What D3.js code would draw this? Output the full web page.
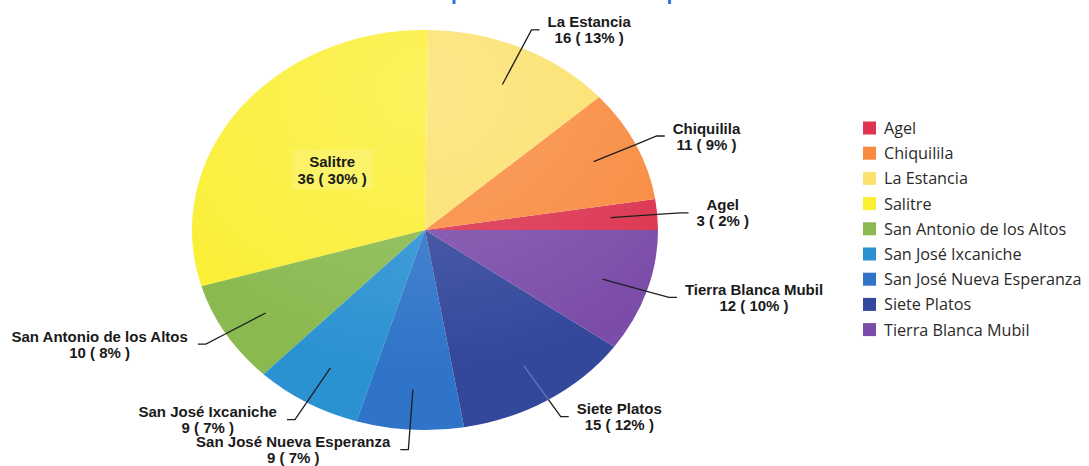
<!DOCTYPE html>
<html>
<head>
<meta charset="utf-8">
<script src="https://cdn.jsdelivr.net/npm/d3@7"></script>
<style>
  html, body { margin: 0; padding: 0; background: #ffffff; }
  svg { display: block; }
</style>
</head>
<body>
<svg id="chart" width="1089" height="466"></svg>
<script>
// Communities and their counts, in drawing order (counter-clockwise from 3 o'clock)
const communities = [
  "Agel", "Chiquilila", "La Estancia", "Salitre", "San Antonio de los Altos",
  "San José Ixcaniche", "San José Nueva Esperanza", "Siete Platos", "Tierra Blanca Mubil"
];
const counts = [3, 11, 16, 36, 10, 9, 9, 15, 12];
const sliceColors = [
  "#dc3450", "#f98b40", "#fce16c", "#fbef36", "#8ab94f",
  "#2b92d2", "#2f74c9", "#33479b", "#7b4ca9"
];
const titleText = "Número de personas encuestadas por comunidad";

const svg = d3.select("#chart");
const cx = 425, cy = 230, rx = 233, ry = 200;

const total = d3.sum(counts);
const pct = v => Math.round(v / total * 100);

const data = communities.map((name, i) => ({ name, value: counts[i], color: sliceColors[i], i }));

// counter-clockwise from east
const pie = d3.pie().sort(null).value(d => d.value)
  .startAngle(Math.PI / 2).endAngle(Math.PI / 2 - 2 * Math.PI);
const arcs = pie(data);

// title, sitting above the top edge of the page
svg.append("text")
  .attr("x", 575).attr("y", -1.5)
  .attr("text-anchor", "middle")
  .attr("font-family", "Open Sans, sans-serif")
  .attr("font-weight", "bold")
  .attr("font-size", 19)
  .attr("fill", "#2b6fd6")
  .text(titleText);

// pie, drawn as a circle and stretched horizontally into an ellipse
const pieG = svg.append("g")
  .attr("transform", `translate(${cx},${cy}) scale(${rx / ry},1)`);
const arc = d3.arc().innerRadius(0).outerRadius(ry);

pieG.selectAll("path.slice")
  .data(arcs)
  .join("path")
  .attr("class", "slice")
  .attr("d", arc)
  .attr("fill", d => d.data.color);

// soft highlight over the upper part of the pie
const defs = svg.append("defs");
const grad = defs.append("radialGradient")
  .attr("id", "shine").attr("cx", "0.5").attr("cy", "0.15").attr("r", "0.7");
grad.append("stop").attr("offset", "0").attr("stop-color", "#ffffff").attr("stop-opacity", 0.2);
grad.append("stop").attr("offset", "1").attr("stop-color", "#ffffff").attr("stop-opacity", 0);
pieG.append("circle").attr("r", ry).attr("fill", "url(#shine)");

// point on the ellipse for a d3 angle (0 = north, clockwise positive) and relative radius
function pt(a, k) {
  return [cx + k * rx * Math.sin(a), cy - k * ry * Math.cos(a)];
}

const labelFont = "Liberation Sans, Arial, sans-serif";
const labelSize = 15;
const lineGap = 16;

const labelsG = svg.append("g");

arcs.forEach(d => {
  const mid = (d.startAngle + d.endAngle) / 2;
  const name = d.data.name;
  const valueText = `${d.data.value} ( ${pct(d.data.value)}% )`;

  if (name === "Salitre") {
    // label placed inside the largest slice
    const [lx, ly] = pt(mid, 0.5);
    const g = labelsG.append("g").attr("transform", `translate(${lx},${ly})`);
    const bg = g.append("rect");
    const t1 = g.append("text").attr("y", -8.5).text(name);
    const t2 = g.append("text").attr("y", 8.5).text(valueText);
    [t1, t2].forEach(t => t
      .attr("text-anchor", "middle").attr("dominant-baseline", "central")
      .attr("font-family", labelFont).attr("font-weight", "bold")
      .attr("font-size", labelSize).attr("fill", "#1a1a1a"));
    const w = Math.max(t1.node().getComputedTextLength(), t2.node().getComputedTextLength());
    bg.attr("x", -w / 2 - 6).attr("y", -20).attr("width", w + 12).attr("height", 40)
      .attr("fill", "#ffffff").attr("opacity", 0.15);
    return;
  }

  const p0 = pt(mid, 0.8);
  const pEdge = pt(mid, 1.0);
  const p1 = pt(mid, 1.1);
  const side = Math.sin(mid) >= 0 ? 1 : -1;
  const p2 = [p1[0] + side * 8, p1[1]];

  const dark = d3.hsl(d.data.color).l < 0.45;
  // segment inside the slice
  labelsG.append("line")
    .attr("x1", p0[0]).attr("y1", p0[1]).attr("x2", pEdge[0]).attr("y2", pEdge[1])
    .attr("stroke", dark ? "#c8cde8" : "#1e1e1e")
    .attr("stroke-opacity", dark ? 0.35 : 1)
    .attr("stroke-width", 1.3);
  // segment outside the pie with the elbow
  labelsG.append("polyline")
    .attr("points", [pEdge, p1, p2].map(p => p.join(",")).join(" "))
    .attr("fill", "none")
    .attr("stroke", "#1e1e1e")
    .attr("stroke-width", 1.3);

  const g = labelsG.append("g");
  const t1 = g.append("text").text(name);
  const t2 = g.append("text").text(valueText);
  [t1, t2].forEach(t => t
    .attr("text-anchor", "middle").attr("dominant-baseline", "central")
    .attr("font-family", labelFont).attr("font-weight", "bold")
    .attr("font-size", labelSize).attr("fill", "#1a1a1a"));
  const w = Math.max(t1.node().getComputedTextLength(), t2.node().getComputedTextLength());
  const bx = side > 0 ? p2[0] + 8 + w / 2 : p2[0] - 10 - w / 2;
  t1.attr("x", bx).attr("y", p2[1] - lineGap / 2);
  t2.attr("x", bx).attr("y", p2[1] + lineGap / 2);
});

// legend
const legend = svg.append("g").attr("transform", "translate(863,128)");
const rows = legend.selectAll("g.row")
  .data(data)
  .join("g")
  .attr("class", "row")
  .attr("transform", (d, i) => `translate(0,${i * 25.2})`);
rows.append("rect")
  .attr("x", 0).attr("y", -6.5).attr("width", 13).attr("height", 13)
  .attr("fill", d => d.color);
rows.append("text")
  .attr("x", 21).attr("y", 0)
  .attr("dominant-baseline", "central")
  .attr("font-family", "Open Sans, sans-serif")
  .attr("font-size", 16.2)
  .attr("fill", "#2a2a2a")
  .text(d => d.name);
</script>
</body>
</html>
